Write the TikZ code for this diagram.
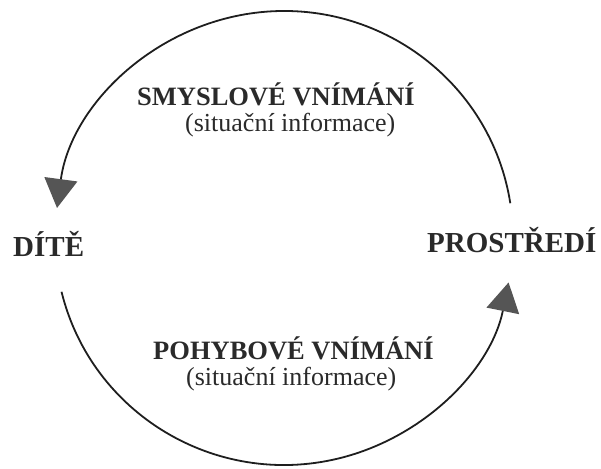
\documentclass[tikz,border=0pt]{standalone}
\usepackage{fontspec}
\setmainfont{Liberation Serif}
\usetikzlibrary{arrows.meta}
\definecolor{linec}{HTML}{1E1E1E}
\definecolor{headc}{HTML}{555555}
\definecolor{textc}{HTML}{2A2A2A}
\tikzset{
  x=1pt, y=1pt,
  lbl/.style={inner sep=0pt, anchor=base west, text=textc, font=\fontsize{26.5}{28}\selectfont\bfseries},
  big/.style={inner sep=0pt, anchor=base west, text=textc, font=\fontsize{29}{31}\selectfont\bfseries},
  sub/.style={inner sep=0pt, anchor=base west, text=textc, font=\fontsize{26}{28}\selectfont},
  cyc/.style={draw=linec, line width=1.8pt, -{Triangle[length=29pt, width=33pt, fill=headc, color=headc]}},
}
\begin{document}
\begin{tikzpicture}
\useasboundingbox (0,0) rectangle (601,468);
\node[big] (dite) at (13,211) {DÍTĚ};
\node[big] (prostredi) at (427,215) {PROSTŘEDÍ};
\node[lbl] (smysl) at (137,362) {SMYSLOVÉ VNÍMÁNÍ};
\node[sub] (smyslsub) at (185,336) {(situační informace)};
\node[lbl] (pohyb) at (153,108) {POHYBOVÉ VNÍMÁNÍ};
\node[sub] (pohybsub) at (186,83) {(situační informace)};
\coordinate (ctr) at (284,230);
\draw[cyc] (ctr) ++(8.8:229 and 227) arc[start angle=8.8, end angle=172.4, x radius=229, y radius=227];
\draw[cyc] (ctr) ++(193.7:229 and 227) arc[start angle=193.7, end angle=348.7, x radius=229, y radius=227];
\end{tikzpicture}
\end{document}
